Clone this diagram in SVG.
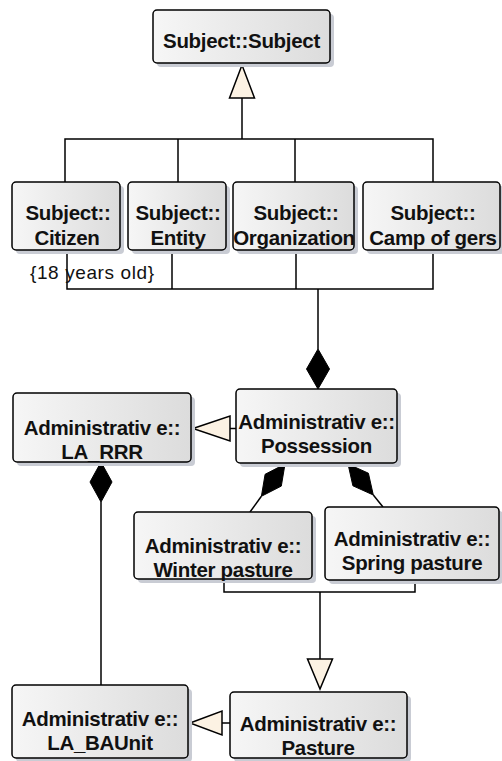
<svg xmlns="http://www.w3.org/2000/svg" width="502" height="761" viewBox="0 0 502 761">
  <defs>
    <linearGradient id="boxFill" x1="0" y1="0" x2="1" y2="0">
      <stop offset="0" stop-color="#f6f6f6"/>
      <stop offset="1" stop-color="#dcdcdc"/>
    </linearGradient>
    <style>
      .shadow { fill: #c9ccd4; }
      .box { fill: url(#boxFill); stroke: #000; stroke-width: 1.5; }
      .label { font-family: "Liberation Sans", Arial, sans-serif; font-weight: bold; font-size: 20.5px; letter-spacing: -0.3px; fill: #111; text-anchor: middle; }
      .note { font-family: "Liberation Sans", Arial, sans-serif; font-size: 19px; fill: #111; }
      .line { fill: none; stroke: #000; stroke-width: 1.5; }
      .gen { fill: #fcf2e3; stroke: #000; stroke-width: 1.5; stroke-linejoin: miter; }
      .comp { fill: #000; stroke: #000; stroke-width: 1; }
    </style>
  </defs>

  <!-- connectors -->
  <g id="connectors">
    <!-- specialisations of Subject -->
    <polyline class="line" points="65,182 65,139 433,139 433,182"/>
    <line class="line" x1="178" y1="139" x2="178" y2="182"/>
    <line class="line" x1="295" y1="139" x2="295" y2="182"/>
    <line class="line" x1="242" y1="139" x2="242" y2="98"/>
    <polygon class="gen" points="242,65 229.5,98 254.5,98"/>

    <!-- subjects composed into Possession -->
    <polyline class="line" points="67,250 67,289 433,289 433,250"/>
    <line class="line" x1="172" y1="250" x2="172" y2="289"/>
    <line class="line" x1="296" y1="250" x2="296" y2="289"/>
    <line class="line" x1="318" y1="289" x2="318" y2="349"/>
    <polygon class="comp" points="318,349 329.5,369 318,389 306.5,369"/>

    <!-- Possession generalises to LA_RRR -->
    <line class="line" x1="230" y1="428.5" x2="236" y2="428.5"/>
    <polygon class="gen" points="193,428.5 230,416 230,441"/>

    <!-- LA_RRR composed into LA_BAUnit -->
    <polygon class="comp" points="101,462 112,482 101,502 90,482"/>
    <line class="line" x1="101" y1="502" x2="101" y2="685"/>

    <!-- pastures composed into Possession -->
    <polygon class="comp" points="285,464 281.3,486.1 261.4,496.3 265.1,474.3"/>
    <line class="line" x1="261.4" y1="496.3" x2="250" y2="512"/>
    <polygon class="comp" points="348,464 368.4,473.2 373.3,495 352.9,485.8"/>
    <line class="line" x1="373.3" y1="495" x2="383" y2="507"/>

    <!-- pastures generalise to Pasture -->
    <polyline class="line" points="224,579 224,592 415,592 415,580"/>
    <line class="line" x1="320" y1="592" x2="320" y2="659"/>
    <polygon class="gen" points="307.5,659 332.5,659 320,689"/>

    <!-- Pasture generalises to LA_BAUnit -->
    <line class="line" x1="222" y1="723" x2="230" y2="723"/>
    <polygon class="gen" points="190,723 222,711 222,735"/>
  </g>

  <!-- nodes -->
  <g id="subject">
    <rect class="shadow" x="157" y="14" width="177" height="53" rx="4"/>
    <rect class="box" x="153" y="10" width="177" height="53" rx="4"/>
    <text class="label" x="241.5" y="48">Subject::Subject</text>
  </g>

  <g id="citizen">
    <rect class="shadow" x="16" y="186" width="108" height="68" rx="4"/>
    <rect class="box" x="12" y="182" width="108" height="68" rx="4"/>
    <text class="label" x="68" y="220">Subject::</text>
    <text class="label" x="67" y="245">Citizen</text>
  </g>

  <g id="entity">
    <rect class="shadow" x="132" y="186" width="98" height="68" rx="4"/>
    <rect class="box" x="128" y="182" width="98" height="68" rx="4"/>
    <text class="label" x="178" y="220">Subject::</text>
    <text class="label" x="178" y="245">Entity</text>
  </g>

  <g id="organization">
    <rect class="shadow" x="237" y="186" width="121" height="68" rx="4"/>
    <rect class="box" x="233" y="182" width="121" height="68" rx="4"/>
    <text class="label" x="296" y="220">Subject::</text>
    <text class="label" x="294" y="245">Organization</text>
  </g>

  <g id="camp-of-gers">
    <rect class="shadow" x="367" y="186" width="137" height="68" rx="4"/>
    <rect class="box" x="363" y="182" width="137" height="68" rx="4"/>
    <text class="label" x="433" y="220">Subject::</text>
    <text class="label" x="433" y="245">Camp of gers</text>
  </g>

  <g id="age-constraint">
    <text class="note" x="30" y="279" textLength="124" lengthAdjust="spacing">{18 years old}</text>
  </g>

  <g id="possession">
    <rect class="shadow" x="240" y="393" width="161" height="74" rx="4"/>
    <rect class="box" x="236" y="389" width="161" height="74" rx="4"/>
    <text class="label" x="316.5" y="429">Administrativ e::</text>
    <text class="label" x="316.5" y="453">Possession</text>
  </g>

  <g id="la-rrr">
    <rect class="shadow" x="17" y="397" width="178" height="69" rx="4"/>
    <rect class="box" x="13" y="393" width="178" height="69" rx="4"/>
    <text class="label" x="102" y="435">Administrativ e::</text>
    <text class="label" x="102" y="459">LA_RRR</text>
  </g>

  <g id="winter-pasture">
    <rect class="shadow" x="138" y="516" width="178" height="67" rx="4"/>
    <rect class="box" x="134" y="512" width="178" height="67" rx="4"/>
    <text class="label" x="223" y="553">Administrativ e::</text>
    <text class="label" x="223" y="577">Winter pasture</text>
  </g>

  <g id="spring-pasture">
    <rect class="shadow" x="329" y="511" width="174" height="73" rx="4"/>
    <rect class="box" x="325" y="507" width="174" height="73" rx="4"/>
    <text class="label" x="412" y="546">Administrativ e::</text>
    <text class="label" x="412" y="570">Spring pasture</text>
  </g>

  <g id="la-baunit">
    <rect class="shadow" x="16" y="689" width="176" height="73" rx="4"/>
    <rect class="box" x="12" y="685" width="176" height="73" rx="4"/>
    <text class="label" x="100" y="726">Administrativ e::</text>
    <text class="label" x="100" y="750">LA_BAUnit</text>
  </g>

  <g id="pasture">
    <rect class="shadow" x="234" y="696" width="177" height="66" rx="4"/>
    <rect class="box" x="230" y="692" width="177" height="66" rx="4"/>
    <text class="label" x="318" y="731">Administrativ e::</text>
    <text class="label" x="318" y="755">Pasture</text>
  </g>
</svg>
